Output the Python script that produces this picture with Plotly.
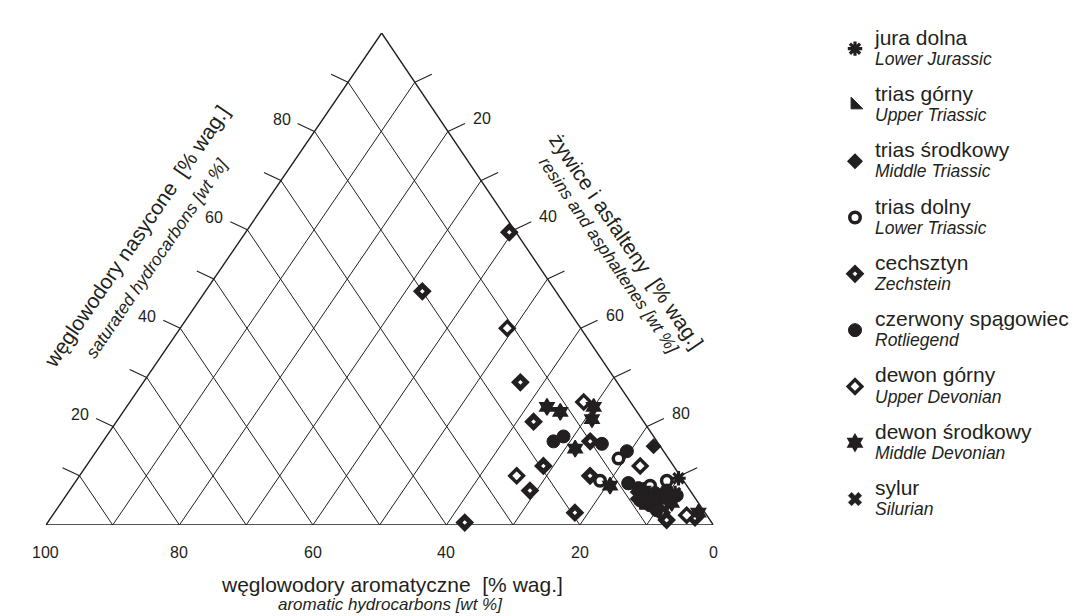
import plotly.graph_objects as go

# ---------------- data (wt %): saturated, aromatic, resins+asphaltenes ----------------
jura_sat = [9.5, 6.5]
jura_aro = [0.5, 2.5]
jura_res = [90.0, 91.0]

tg_sat = [4.0]
tg_aro = [8.5]
tg_res = [87.5]

ts_sat = [16.0]
ts_aro = [1.0]
ts_res = [83.0]

td_sat = [13.5, 9.0, 9.0, 8.5, 8.0, 4.0]
td_aro = [7.5, 2.5, 12.5, 8.5, 5.5, 5.5]
td_res = [79.0, 88.5, 78.5, 83.0, 86.5, 90.5]

cech_sat = [59.5, 47.5, 29.0, 21.0, 12.0, 7.0, 2.5, 0.5, 17.0, 10.0, 1.0, 5.0, 2.5, 1.5]
cech_aro = [1.0, 20.0, 14.5, 16.5, 19.5, 24.0, 19.5, 37.0, 10.0, 13.5, 6.5, 6.0, 6.5, 2.0]
cech_res = [39.5, 32.5, 56.5, 62.5, 68.5, 69.0, 78.0, 62.5, 73.0, 76.5, 92.5, 89.0, 91.0, 96.5]

cs_sat = [17.0, 18.0, 16.5, 15.0, 7.5, 6.0, 6.5, 4.0, 5.5, 5.0, 7.0, 8.5, 3.0, 6.0]
cs_aro = [15.5, 13.5, 8.5, 5.5, 7.5, 7.0, 5.5, 7.5, 4.5, 8.5, 3.5, 8.5, 7.0, 2.5]
cs_res = [67.5, 68.5, 75.0, 79.5, 85.0, 87.0, 88.0, 88.5, 90.0, 86.5, 89.5, 83.0, 90.0, 91.5]

dg_sat = [40.0, 10.0, 25.0, 12.0, 2.0]
dg_aro = [11.0, 24.5, 7.0, 5.0, 3.0]
dg_res = [49.0, 65.5, 68.0, 83.0, 95.0]

ds_sat = [24.0, 23.0, 24.0, 21.5, 15.5, 8.0, 4.5, 2.5, 7.0]
ds_aro = [13.0, 11.5, 6.0, 7.5, 13.0, 11.5, 4.0, 1.0, 7.0]
ds_res = [63.0, 65.5, 70.0, 71.0, 71.5, 80.5, 91.5, 96.5, 86.0]

syl_sat = [5.5, 6.0]
syl_aro = [6.0, 8.5]
syl_res = [88.5, 85.5]

series_names = [
    ("jura dolna", "Lower Jurassic"),
    ("trias górny", "Upper Triassic"),
    ("trias środkowy", "Middle Triassic"),
    ("trias dolny", "Lower Triassic"),
    ("cechsztyn", "Zechstein"),
    ("czerwony spągowiec", "Rotliegend"),
    ("dewon górny", "Upper Devonian"),
    ("dewon środkowy", "Middle Devonian"),
    ("sylur", "Silurian"),
]

tick_values = [0, 10, 20, 30, 40, 50, 60, 70, 80, 90, 100]
tick_labels = ["0", "", "20", "", "40", "", "60", "", "80", "", "100"]

# ---------------- geometry helpers ----------------
APEX = 0.503      # horizontal position of the saturated apex (fraction of base)
INK = "#231f20"
FONT = "Liberation Sans, Arial, sans-serif"


def tx(sat, res):
    return [r + APEX * s for s, r in zip(sat, res)]


def ty(sat):
    return list(sat)


fig = go.Figure()

# grid lines (constant aromatic and constant resin)
gx, gy = [], []
for v in tick_values[1:-1]:
    s0, r0 = 0, v
    s1, r1 = 100 - v, v
    gx += tx([s0, s1], [r0, r1]) + [None]
    gy += ty([s0, s1]) + [None]
    s0, r0 = 0, 100 - v
    s1, r1 = 100 - v, 0
    gx += tx([s0, s1], [r0, r1]) + [None]
    gy += ty([s0, s1]) + [None]
fig.add_trace(go.Scatter(x=gx, y=gy, mode="lines", line=dict(color=INK, width=1.0),
                         hoverinfo="skip", showlegend=False, cliponaxis=False))

# outline
ox = tx([0, 0, 100, 0], [0, 100, 0, 0])
oy = ty([0, 0, 100, 0])
fig.add_trace(go.Scatter(x=ox, y=oy, mode="lines", line=dict(color=INK, width=1.4),
                         hoverinfo="skip", showlegend=False, cliponaxis=False))

# ticks
PX_X = 6.68   # pixels per x unit
PX_Y = 4.92   # pixels per y unit
kx, ky = [], []
annotations = []
for v, lab in zip(tick_values, tick_labels):
    bx = tx([0], [100 - v])[0]
    kx += [bx, bx, None]
    ky += [0, -16 / PX_Y, None]
    if lab:
        annotations.append(dict(x=bx, y=0, xref="x", yref="y", text=lab, showarrow=False,
                                yshift=-27, xanchor="center", yanchor="middle",
                                font=dict(size=16, family=FONT, color=INK)))
    lx = tx([v], [0])[0]
    ly = v
    ex, ey = lx - 17 / PX_X, ly + 8 / PX_Y
    kx += [lx, ex, None]
    ky += [ly, ey, None]
    if lab:
        annotations.append(dict(x=ex, y=ey, xref="x", yref="y", text=lab, showarrow=False,
                                xshift=-5, yshift=4, xanchor="right", yanchor="middle",
                                font=dict(size=16, family=FONT, color=INK)))
    rx = tx([100 - v], [v])[0]
    ry = 100 - v
    ex, ey = rx + 17 / PX_X, ry + 8 / PX_Y
    kx += [rx, ex, None]
    ky += [ry, ey, None]
    if lab:
        annotations.append(dict(x=ex, y=ey, xref="x", yref="y", text=lab, showarrow=False,
                                xshift=6, yshift=5, xanchor="left", yanchor="middle",
                                font=dict(size=16, family=FONT, color=INK)))
fig.add_trace(go.Scatter(x=kx, y=ky, mode="lines", line=dict(color=INK, width=1.1),
                         hoverinfo="skip", showlegend=False, cliponaxis=False))

# ---------------- data series ----------------
styles = [
    dict(symbol="asterisk-open", size=12, color=INK, line=dict(color=INK, width=3.2)),
    dict(symbol="triangle-sw", size=13, color=INK, line=dict(color=INK, width=1)),
    dict(symbol="diamond", size=11, color=INK, line=dict(color=INK, width=1.2)),
    dict(symbol="circle", size=10.5, color="white", line=dict(color=INK, width=3.5)),
    dict(symbol="diamond", size=9, color="white", line=dict(color=INK, width=5)),
    dict(symbol="circle", size=13, color=INK, line=dict(color=INK, width=1)),
    dict(symbol="diamond", size=10.5, color="white", line=dict(color=INK, width=3.4)),
    dict(symbol="hexagram", size=12.5, color=INK, line=dict(color=INK, width=1.5)),
    dict(symbol="x", size=12, color=INK, line=dict(color=INK, width=0.5)),
]
data = [
    (jura_sat, jura_aro, jura_res),
    (tg_sat, tg_aro, tg_res),
    (ts_sat, ts_aro, ts_res),
    (td_sat, td_aro, td_res),
    (cech_sat, cech_aro, cech_res),
    (cs_sat, cs_aro, cs_res),
    (dg_sat, dg_aro, dg_res),
    (ds_sat, ds_aro, ds_res),
    (syl_sat, syl_aro, syl_res),
]
for i, ((pl, en), (s, a, r), st) in enumerate(zip(series_names, data, styles)):
    name = (f"<span style='font-size:21px'>{pl}</span><br>"
            f"<i><span style='font-size:17.5px'>{en}</span></i>")
    fig.add_trace(go.Scatter(
        x=tx(s, r), y=ty(s), mode="markers", name=name,
        legendgroup=f"g{i}", marker=st, cliponaxis=False,
        customdata=list(zip(s, a, r)),
        hovertemplate="sat %{customdata[0]}%<br>arom %{customdata[1]}%<br>res %{customdata[2]}%<extra></extra>",
    ))

# ---------------- axis titles ----------------
W, H = 1074, 616


def pap(px, py):
    return px / W, 1 - py / H


titles = [
    ("węglowodory aromatyczne  [% wag.]", 392, 584, 0, 21, False),
    ("aromatic hydrocarbons [wt %]", 391, 604, 0, 17, True),
    ("węglowodory nasycone  [% wag.]", 136, 236, -55.7, 21, False),
    ("saturated hydrocarbons [wt %]", 157, 258, -55.7, 17.5, True),
    ("żywice i asfalteny  [% wag.]", 627, 242, 55.7, 21, False),
    ("resins and asphaltenes [wt %]", 610, 256, 55.7, 17.5, True),
]
for txt, px, py, ang, sz, it in titles:
    x, y = pap(px, py)
    annotations.append(dict(x=x, y=y, xref="paper", yref="paper",
                            text=f"<i>{txt}</i>" if it else txt, showarrow=False,
                            textangle=ang, xanchor="center", yanchor="middle",
                            borderpad=0,
                            font=dict(size=sz, family=FONT, color=INK)))

fig.update_layout(
    width=W, height=H,
    margin=dict(l=0, r=0, t=0, b=0),
    paper_bgcolor="white", plot_bgcolor="white",
    xaxis=dict(range=[0, 100], domain=[46 / W, 714 / W], visible=False, fixedrange=True),
    yaxis=dict(range=[0, 100], domain=[(H - 525) / H, (H - 33) / H], visible=False, fixedrange=True),
    showlegend=True,
    legend=dict(x=836 / W, y=1 - 22 / H, xanchor="left", yanchor="top",
                font=dict(size=15.5, family=FONT, color=INK),
                tracegroupgap=13, itemwidth=30, bgcolor="rgba(0,0,0,0)"),
    annotations=annotations,
)

fig.write_html("out.html", config={"displayModeBar": False},
               post_script="document.body.style.margin='0px';document.body.style.overflow='hidden';")
